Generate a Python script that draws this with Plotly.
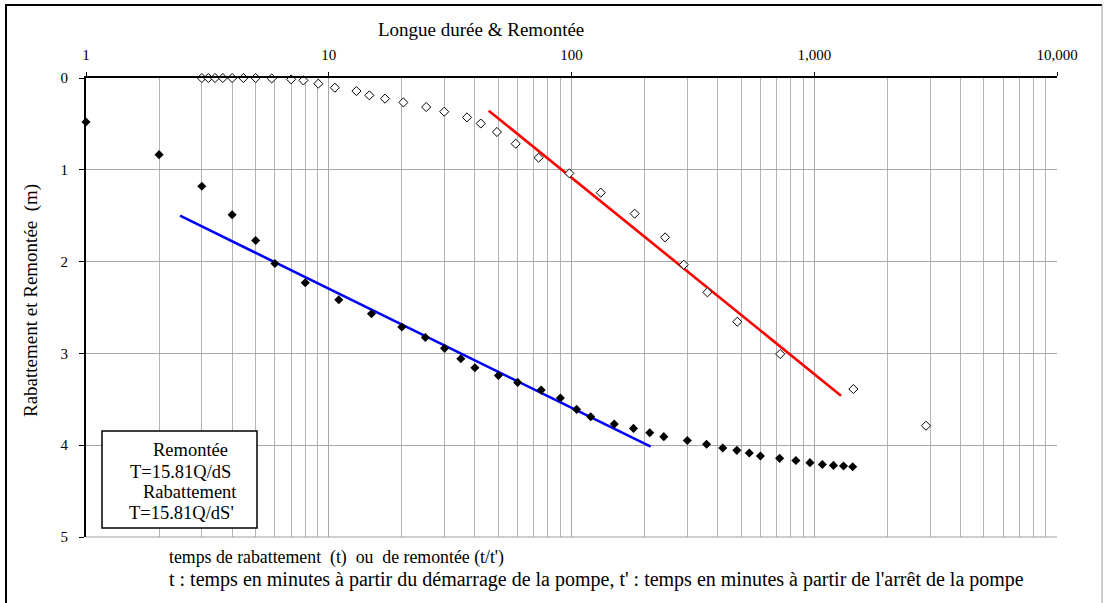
import plotly.graph_objects as go

# Rabattement (drawdown): time since pump start (min) and drawdown (m)
t_rabattement = [1, 2, 3, 4, 5, 6, 8, 11, 15, 20, 25, 30, 35, 40, 50, 60, 75, 90,
                 105, 120, 150, 180, 210, 240, 300, 360, 420, 480, 540, 600, 720,
                 840, 960, 1080, 1200, 1320, 1440]
s_rabattement = [0.48, 0.835, 1.18, 1.49, 1.77, 2.02, 2.23, 2.415, 2.568, 2.712,
                 2.826, 2.945, 3.058, 3.156, 3.24, 3.316, 3.40, 3.486, 3.61, 3.69,
                 3.77, 3.817, 3.864, 3.907, 3.948, 3.99, 4.03, 4.056, 4.085, 4.118,
                 4.143, 4.166, 4.19, 4.21, 4.22, 4.227, 4.234]

# Remontée (recovery): t/t' and residual drawdown (m)
t_remontee = [3.0, 3.19, 3.40, 3.66, 4.0, 4.45, 5.0, 5.82, 7.0, 7.86, 9.06, 10.6,
              13.0, 14.7, 17.05, 20.3, 25.2, 29.9, 37.1, 42.3, 49.3, 58.9, 73.2,
              98, 132, 182, 243, 290, 363, 482, 724, 1449, 2886]
s_remontee = [0, 0, 0, 0, 0, 0, 0, 0.005, 0.015, 0.026, 0.062, 0.106, 0.142,
              0.189, 0.225, 0.266, 0.316, 0.367, 0.429, 0.496, 0.588, 0.716, 0.868,
              1.039, 1.249, 1.478, 1.736, 2.034, 2.335, 2.655, 3.007, 3.388, 3.788]

# Straight-line fits (Jacob method)
fit_remontee_t = [45.6, 1289]
fit_remontee_s = [0.356, 3.461]
fit_rabattement_t = [2.44, 212]
fit_rabattement_s = [1.50, 4.016]

x_tickvals = [1, 10, 100, 1000, 10000]
x_ticktext = ["1", "10", "100", "1,000", "10,000"]
y_tickvals = [0, 1, 2, 3, 4, 5]

legend_lines = ["Remontée", "T=15.81Q/dS", "Rabattement", "T=15.81Q/dS'"]

FONT = "Liberation Serif, Times New Roman, serif"
W, H = 1107, 603
ML, MR, MT, MB = 86, 50, 78, 66
PW, PH = W - ML - MR, H - MT - MB


def px(x):
    return (x - ML) / PW


def py(y):
    return (H - MB - y) / PH


minor_vals = [d * 10 ** k for k in range(4) for d in range(2, 10)]

fig = go.Figure()

fig.add_trace(go.Scatter(
    x=fit_remontee_t, y=fit_remontee_s, mode="lines",
    line=dict(color="rgb(255,0,0)", width=2.6), showlegend=False))
fig.add_trace(go.Scatter(
    x=fit_rabattement_t, y=fit_rabattement_s, mode="lines",
    line=dict(color="rgb(0,0,255)", width=2.6), showlegend=False))
fig.add_trace(go.Scatter(
    x=t_remontee, y=s_remontee, mode="markers", cliponaxis=False,
    marker=dict(symbol="diamond", size=7, color="white",
                line=dict(color="black", width=1)),
    showlegend=False))
fig.add_trace(go.Scatter(
    x=t_rabattement, y=s_rabattement, mode="markers", cliponaxis=False,
    marker=dict(symbol="diamond", size=7, color="black",
                line=dict(color="black", width=0)),
    showlegend=False))

fig.update_xaxes(
    type="log", range=[0, 4], side="top",
    tickmode="array", tickvals=x_tickvals, ticktext=x_ticktext,
    ticks="outside", ticklen=4, tickcolor="black", tickwidth=1,
    ticklabelstandoff=6,
    tickfont=dict(family=FONT, size=15, color="black"),
    showline=True, linecolor="black", linewidth=1.5,
    showgrid=True, gridcolor="#a8a8a8", gridwidth=1,
    minor=dict(tickmode="array", tickvals=minor_vals, ticks="",
               showgrid=True, gridcolor="#b4b4b4", gridwidth=1),
    zeroline=False,
)
fig.update_yaxes(
    range=[5, 0], tickmode="array", tickvals=y_tickvals,
    ticks="outside", ticklen=5, tickcolor="black", tickwidth=1,
    ticklabelstandoff=8,
    tickfont=dict(family=FONT, size=15, color="black"),
    showline=True, linecolor="black", linewidth=2,
    showgrid=True, gridcolor="#a8a8a8", gridwidth=1,
    zeroline=False,
)

shapes = [
    # bottom edge of plot area
    dict(type="line", xref="paper", yref="paper", x0=0, x1=1, y0=0, y1=0,
         line=dict(color="#a0a0a0", width=1.2), layer="above"),
    # outer chart frame
    dict(type="line", xref="paper", yref="paper", x0=px(6), x1=px(6),
         y0=py(4), y1=py(604), line=dict(color="black", width=2)),
    dict(type="line", xref="paper", yref="paper", x0=px(5), x1=px(1102),
         y0=py(5), y1=py(5), line=dict(color="black", width=2)),
    dict(type="line", xref="paper", yref="paper", x0=px(1102), x1=px(1102),
         y0=py(5), y1=py(604), line=dict(color="#a0a0a0", width=1)),
    # text box
    dict(type="rect", xref="paper", yref="paper", x0=px(102), x1=px(257),
         y0=py(528), y1=py(431), line=dict(color="black", width=1.5),
         fillcolor="white", layer="above"),
]

annotations = [
    dict(text="Longue durée & Remontée", x=px(481), y=py(29), xref="paper",
         yref="paper", showarrow=False, xanchor="center", yanchor="middle",
         font=dict(family=FONT, size=19, color="black")),
    dict(text="Rabattement et Remontée  (m)", x=px(31), y=py(301),
         xref="paper", yref="paper", showarrow=False, textangle=-90,
         xanchor="center", yanchor="middle",
         font=dict(family=FONT, size=19, color="black")),
    dict(text="temps de rabattement  (t)  ou  de remontée (t/t')",
         x=px(167), y=py(557), xref="paper", yref="paper", showarrow=False,
         xanchor="left", yanchor="middle",
         font=dict(family=FONT, size=17.8, color="black")),
    dict(text="t : temps en minutes à partir du démarrage de la pompe, "
              "t' : temps en minutes à partir de l'arrêt de la pompe",
         x=px(167), y=py(579), xref="paper", yref="paper", showarrow=False,
         xanchor="left", yanchor="middle",
         font=dict(family=FONT, size=20, color="black")),
]

legend_pos = [(190, 450), (180, 471.5), (189.5, 492), (181, 513)]
for line, (lx, ly) in zip(legend_lines, legend_pos):
    annotations.append(dict(
        text=line, x=px(lx), y=py(ly), xref="paper", yref="paper",
        showarrow=False, xanchor="center", yanchor="middle",
        font=dict(family=FONT, size=18.5, color="black")))

fig.update_layout(
    width=W, height=H,
    margin=dict(l=ML, r=MR, t=MT, b=MB),
    paper_bgcolor="white", plot_bgcolor="white",
    shapes=shapes, annotations=annotations,
    showlegend=False,
)

fig.write_html("out.html")
